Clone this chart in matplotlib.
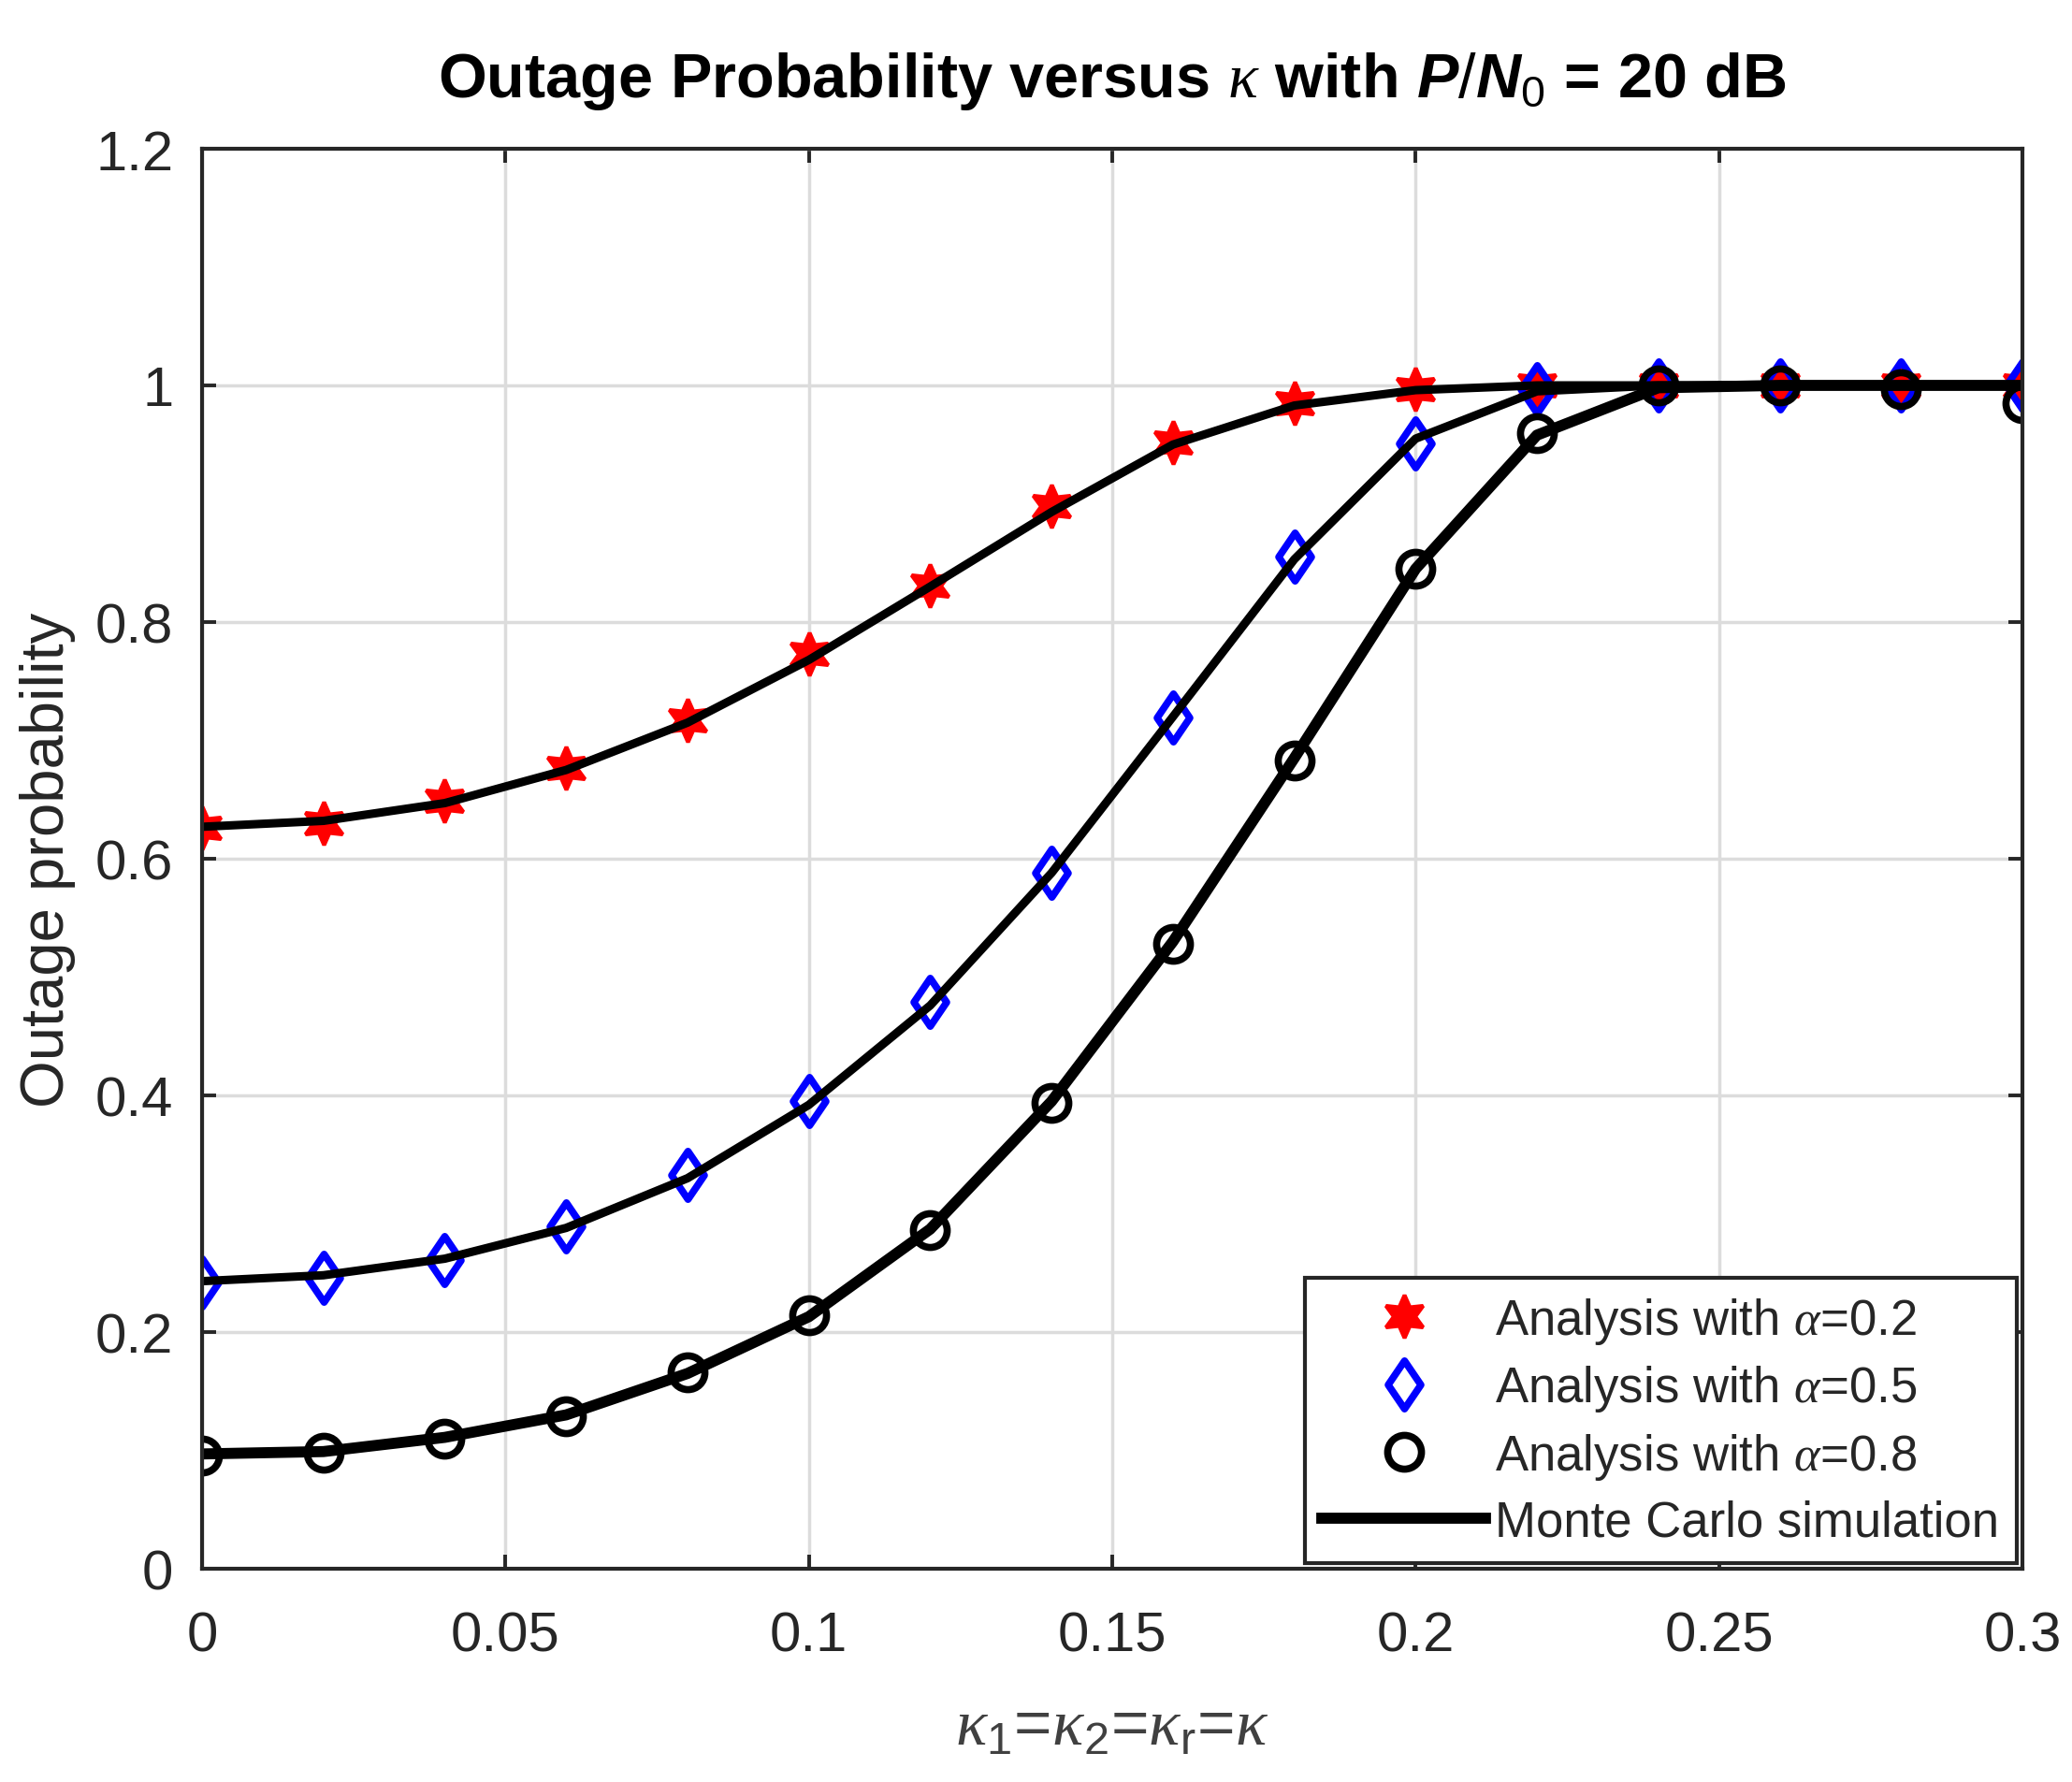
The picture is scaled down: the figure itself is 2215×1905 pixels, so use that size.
import numpy as np
import matplotlib.pyplot as plt
from matplotlib.path import Path

# kappa values and outage probabilities
kappa = [0.0, 0.02, 0.04, 0.06, 0.08, 0.10, 0.12, 0.14, 0.16, 0.18,
         0.20, 0.22, 0.24, 0.26, 0.28, 0.30]

ana_02 = [0.626, 0.630, 0.649, 0.677, 0.717, 0.773, 0.831, 0.898, 0.952,
          0.985, 0.997, 1.0, 1.0, 1.0, 1.0, 1.0]
ana_05 = [0.242, 0.246, 0.261, 0.289, 0.333, 0.395, 0.479, 0.588, 0.719,
          0.855, 0.951, 0.997, 1.0, 1.0, 1.0, 1.0]
ana_08 = [0.096, 0.098, 0.110, 0.129, 0.166, 0.214, 0.286, 0.394, 0.528,
          0.683, 0.845, 0.960, 1.0, 1.0, 0.997, 0.985]

sim_02 = [0.627, 0.632, 0.647, 0.675, 0.715, 0.768, 0.830, 0.893, 0.950,
          0.983, 0.996, 1.0, 1.0, 1.0, 1.0, 1.0]
sim_05 = [0.243, 0.248, 0.262, 0.288, 0.330, 0.392, 0.476, 0.588, 0.720,
          0.853, 0.955, 0.995, 1.0, 1.0, 1.0, 1.0]
sim_08 = [0.097, 0.099, 0.111, 0.130, 0.165, 0.213, 0.287, 0.395, 0.530,
          0.685, 0.845, 0.958, 0.998, 1.0, 1.0, 1.0]

xticks = [0, 0.05, 0.1, 0.15, 0.2, 0.25, 0.3]
xticklabels = ['0', '0.05', '0.1', '0.15', '0.2', '0.25', '0.3']
yticks = [0, 0.2, 0.4, 0.6, 0.8, 1.0, 1.2]
yticklabels = ['0', '0.2', '0.4', '0.6', '0.8', '1', '1.2']

plt.rcParams['font.family'] = ['Liberation Sans', 'DejaVu Sans']
plt.rcParams['mathtext.fontset'] = 'custom'
plt.rcParams['mathtext.rm'] = 'Liberation Sans'
plt.rcParams['mathtext.it'] = 'Liberation Sans:italic:bold'
plt.rcParams['mathtext.bf'] = 'Liberation Sans:bold'
plt.rcParams['mathtext.sf'] = 'Liberation Serif:italic'

gray = '#262626'

# MATLAB-like diamond, a bit wider than matplotlib's thin 'd'
diamond = Path([(0, 1), (0.68, 0), (0, -1), (-0.68, 0), (0, 1)],
               [Path.MOVETO, Path.LINETO, Path.LINETO, Path.LINETO, Path.CLOSEPOLY])

fig = plt.figure(figsize=(22.15, 19.06), dpi=100)
ax = fig.add_axes([216 / 2215, 1 - 1678 / 1906, (2162 - 216) / 2215, (1678 - 160) / 1906])

# analysis markers first, simulation lines drawn over them
ax.plot(kappa, ana_02, linestyle='none', marker=(6, 1, 0), markersize=33,
        color='red', markeredgewidth=3, label=r'Analysis with $\mathsf{\alpha}$=0.2')
ax.plot(kappa, ana_05, linestyle='none', marker=diamond, markersize=37,
        markerfacecolor='none', markeredgecolor='blue', markeredgewidth=5.5,
        label=r'Analysis with $\mathsf{\alpha}$=0.5')
ax.plot(kappa, ana_08, linestyle='none', marker='o', markersize=26,
        markerfacecolor='none', markeredgecolor='black', markeredgewidth=5.5,
        label=r'Analysis with $\mathsf{\alpha}$=0.8')

ax.plot(kappa, sim_08, color='black', linewidth=8.5, label='Monte Carlo simulation')
ax.plot(kappa, sim_05, color='black', linewidth=6.5)
ax.plot(kappa, sim_02, color='black', linewidth=6.5)

ax.set_xlim(0, 0.3)
ax.set_ylim(0, 1.2)
ax.set_xticks(xticks)
ax.set_xticklabels(xticklabels)
ax.set_yticks(yticks)
ax.set_yticklabels(yticklabels)

ax.grid(True, color='#dcdcdc', linewidth=2.5)
ax.set_axisbelow(True)
for sp in ax.spines.values():
    sp.set_color(gray)
    sp.set_linewidth(3)

ax.tick_params(axis='both', direction='in', length=11, width=2.8, colors=gray,
               labelsize=43, top=True, right=True)
ax.tick_params(axis='x', pad=32)
ax.tick_params(axis='y', pad=22)

ax.set_ylabel('Outage probability', fontsize=47, color=gray, labelpad=15)
ax.set_xlabel(r'$\mathsf{\kappa}_1$=$\mathsf{\kappa}_2$=$\mathsf{\kappa}_\mathrm{r}$=$\mathsf{\kappa}$',
              fontsize=50, color='#404040', labelpad=27)
ax.set_title(r'Outage Probability versus $\mathsf{\kappa}$ with $\mathit{P/N_0}$ = 20 dB',
             fontsize=48, fontweight='bold', pad=40)

leg = ax.legend(loc='lower right', fontsize=38, frameon=True, fancybox=False,
                edgecolor=gray, framealpha=1, borderaxespad=0.12,
                handlelength=3.3, handletextpad=0.2, labelspacing=0.35,
                borderpad=0.35, numpoints=1)
leg.get_frame().set_linewidth(3)
for t in leg.get_texts():
    t.set_color(gray)

fig.savefig('out.png', dpi=100)
